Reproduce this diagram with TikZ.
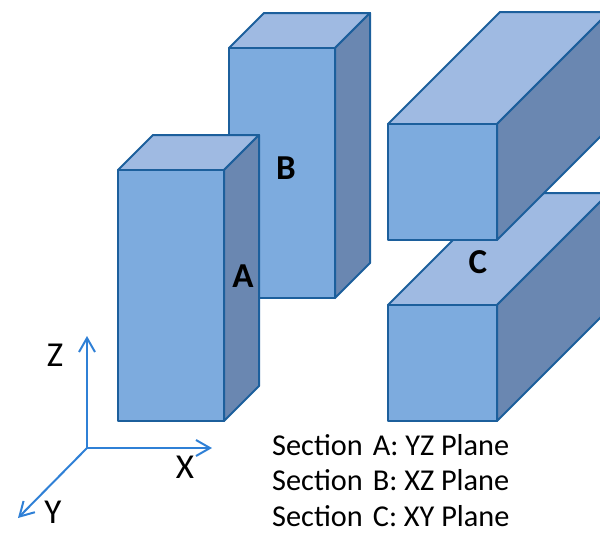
\documentclass[tikz,border=0pt]{standalone}
\usepackage{fontspec}
\setmainfont{Carlito}
\usetikzlibrary{arrows.meta}
\definecolor{frontc}{HTML}{7DABDE}
\definecolor{sidec}{HTML}{6A87B1}
\definecolor{topc}{HTML}{9FBAE2}
\definecolor{edgec}{HTML}{1C5F9C}
\definecolor{axisc}{HTML}{2F80D6}
\tikzset{
  facefront/.style={fill=frontc,draw=edgec,line width=2pt,line join=round},
  faceside/.style={fill=sidec,draw=edgec,line width=2pt,line join=round},
  facetop/.style={fill=topc,draw=edgec,line width=2pt,line join=round},
  axisline/.style={draw=axisc,line width=2pt,-{Straight Barb[length=14pt,width=16pt,line width=2pt]}},
  axislabel/.style={font=\fontsize{35}{35}\selectfont,text=black,inner sep=0pt},
  boxlabel/.style={font=\fontsize{35}{35}\selectfont\bfseries,text=black,inner sep=0pt},
  seclabel/.style={font=\fontsize{30.3}{30.3}\selectfont,text=black,inner sep=0pt,anchor=base west}
}
% #1 left, #2 top, #3 right, #4 bottom, #5 depth
\newcommand{\cuboid}[5]{
  \path[facetop] (#1,#2) -- ({#1+#5},{#2-#5}) -- ({#3+#5},{#2-#5}) -- (#3,#2) -- cycle;
  \path[faceside] (#3,#2) -- ({#3+#5},{#2-#5}) -- ({#3+#5},{#4-#5}) -- (#3,#4) -- cycle;
  \path[facefront] (#1,#2) rectangle (#3,#4);
}
\begin{document}
\begin{tikzpicture}[x=1pt,y=-1pt]
\useasboundingbox (0,0) rectangle (600,533);
\clip (0,0) rectangle (600,533);
\cuboid{229}{48}{335}{298}{35}
\cuboid{118}{170}{224}{421}{35}
\cuboid{388}{305}{497}{421}{112}
\cuboid{388}{124}{497}{240}{112}
\coordinate (o) at (87,448);
\coordinate (zt) at (87,336);
\coordinate (xt) at (212,448);
\coordinate (yt) at (18,518);
\draw[axisline] (o) -- (zt);
\draw[axisline] (o) -- (xt);
\draw[axisline] (o) -- (yt);
\node[axislabel] (lz) at (55,355) {Z};
\node[axislabel] (lx) at (185,467) {X};
\node[axislabel] (ly) at (53,512) {Y};
\node[boxlabel] (la) at (243,276) {A};
\node[boxlabel] (lb) at (286,168) {B};
\node[boxlabel] (lc) at (478,262) {C};
\node[seclabel] (sa) at (272,455) {Section\,\,A: YZ Plane};
\node[seclabel] (sb) at (272,490.5) {Section\,\,B: XZ Plane};
\node[seclabel] (sc) at (272,526) {Section\,\,C: XY Plane};
\end{tikzpicture}
\end{document}
